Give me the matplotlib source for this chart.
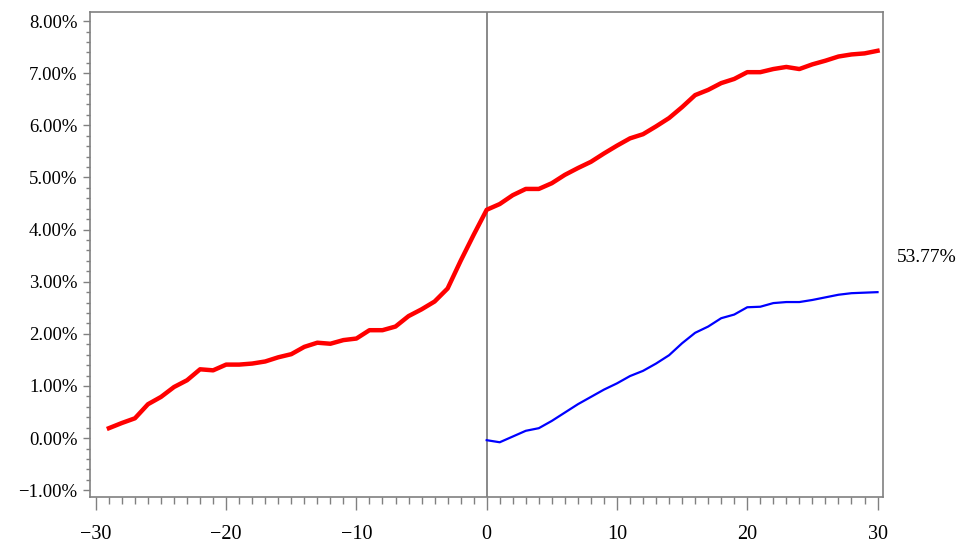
import matplotlib
matplotlib.use("Agg")
import matplotlib.pyplot as plt
from matplotlib.ticker import MultipleLocator, FuncFormatter

# Event window days
red_x = list(range(-29, 31))
red_y = [0.19, 0.29, 0.38, 0.65, 0.79, 0.98, 1.11, 1.32, 1.30, 1.41,
         1.41, 1.43, 1.47, 1.55, 1.61, 1.75, 1.83, 1.81, 1.88, 1.91,
         2.07, 2.07, 2.14, 2.34, 2.47, 2.62, 2.87, 3.40, 3.90, 4.38,
         4.49, 4.66, 4.78, 4.78, 4.89, 5.05, 5.18, 5.30, 5.46, 5.61,
         5.75, 5.83, 5.98, 6.14, 6.35, 6.58, 6.68, 6.81, 6.89, 7.02,
         7.02, 7.08, 7.12, 7.08, 7.17, 7.24, 7.32, 7.36, 7.38, 7.43]

blue_x = list(range(0, 31))
blue_y = [-0.04, -0.08, 0.03, 0.14, 0.19, 0.33, 0.49, 0.65, 0.79, 0.93,
          1.05, 1.19, 1.29, 1.43, 1.59, 1.82, 2.02, 2.14, 2.30, 2.37,
          2.51, 2.52, 2.59, 2.61, 2.61, 2.65, 2.70, 2.75, 2.78, 2.79, 2.80]

x_ticks = [-30, -20, -10, 0, 10, 20, 30]
y_ticks = [-1, 0, 1, 2, 3, 4, 5, 6, 7, 8]
annotation = "53.77%"

plt.rcParams['font.family'] = ['Liberation Serif', 'DejaVu Serif']

fig = plt.figure(figsize=(9.69, 5.43), dpi=100)
ax = fig.add_axes([90/969, 1-497/543, (883-90)/969, (497-11.7)/543])

gray = '#808080'
ax.axvline(0, color=gray, lw=1.3, zorder=1)
ax.plot(red_x, red_y, color='#ff0000', lw=3.2, solid_joinstyle='round', zorder=3)
ax.plot(blue_x, blue_y, color='#0000ff', lw=1.6, zorder=3)

ax.set_xlim(-30.45, 30.42)
ax.set_ylim(-1.13, 8.18)
ax.set_xticks(x_ticks)
ax.set_yticks(y_ticks)
ax.xaxis.set_minor_locator(MultipleLocator(1))
ax.yaxis.set_minor_locator(MultipleLocator(0.2))
ax.yaxis.set_major_formatter(FuncFormatter(lambda v, p: f"{v:.2f}%".replace('-', '\u2212')))
ax.xaxis.set_major_formatter(FuncFormatter(lambda v, p: f"{int(v)}".replace('-', '\u2212')))

for s in ax.spines.values():
    s.set_color(gray)
    s.set_linewidth(1.2)

ax.tick_params(axis='y', which='major', direction='out', length=5, width=1, color=gray,
               labelsize=13.5, pad=4)
ax.tick_params(axis='y', which='minor', direction='out', length=3, width=1, color=gray)
ax.tick_params(axis='x', which='major', direction='out', length=9, width=1, color=gray,
               labelsize=14.5, pad=11)
ax.tick_params(axis='x', which='minor', direction='out', length=5, width=1, color=gray)
ax.tick_params(right=False, top=False)

fig.text(927/969, 1-258/543, annotation, ha='center', va='center', fontsize=14)

fig.savefig('out.png', dpi=100)
